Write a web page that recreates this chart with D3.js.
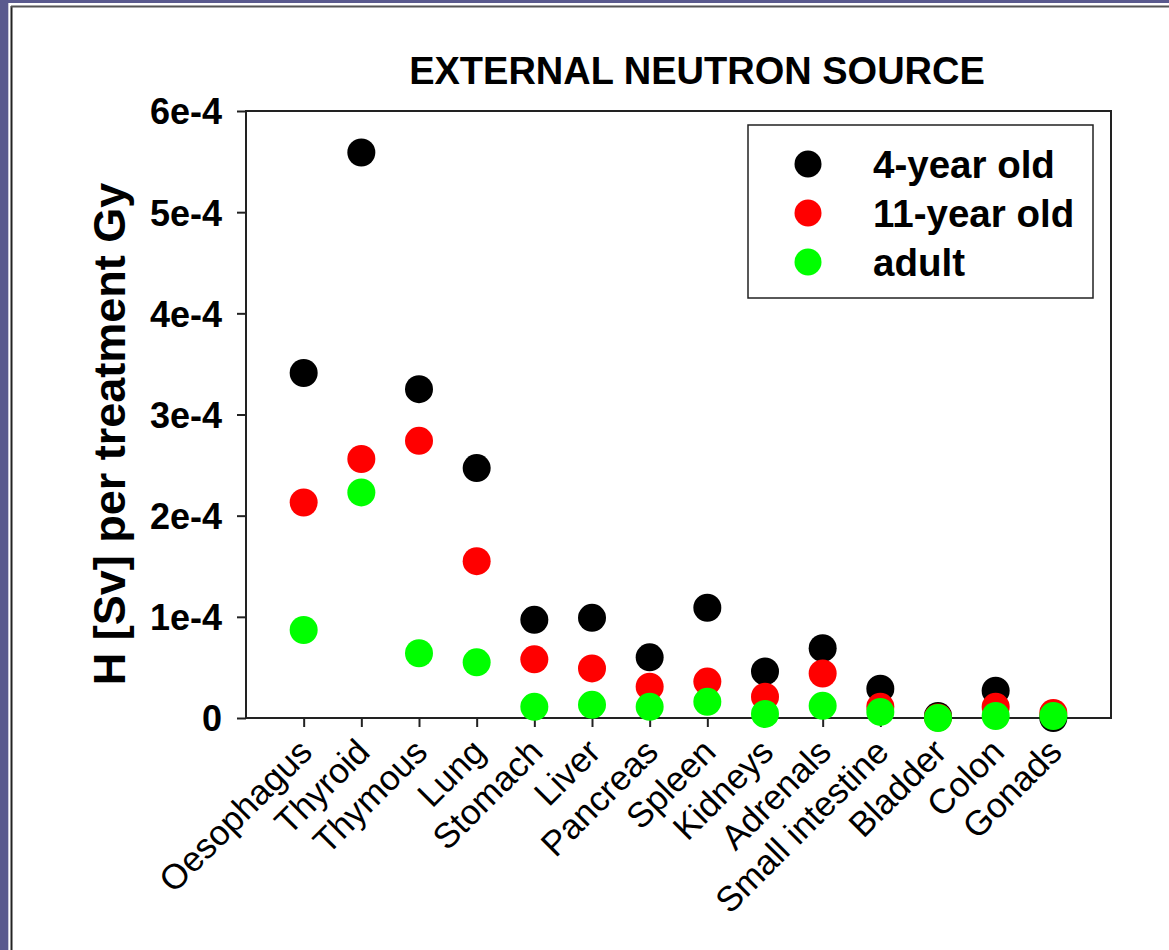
<!DOCTYPE html>
<html>
<head>
<meta charset="utf-8">
<script src="https://cdn.jsdelivr.net/npm/d3@7"></script>
<style>
  body { margin: 0; background: #5a5a8e; }
  #chart1 { width: 1169px; height: 950px; }
</style>
</head>
<body>
<div id="chart1"></div>
<script>
// Organ doses, external neutron source (values in units of 1e-4 Sv per treatment Gy)
const organs = ["Oesophagus", "Thyroid", "Thymous", "Lung", "Stomach", "Liver", "Pancreas",
    "Spleen", "Kidneys", "Adrenals", "Small intestine", "Bladder", "Colon", "Gonads"];
const age4 = [3.41, 5.59, 3.25, 2.47, 0.97, 0.99, 0.60, 1.09, 0.46, 0.69, 0.29, 0.02, 0.27, 0.00];
const age11 = [2.13, 2.56, 2.74, 1.55, 0.58, 0.49, 0.31, 0.36, 0.21, 0.44, 0.11, 0.005, 0.11, 0.05];
const adult = [0.87, 2.23, 0.64, 0.55, 0.11, 0.13, 0.11, 0.16, 0.04, 0.12, 0.06, 0.00, 0.02, 0.02];
const seriesNames = ["4-year old", "11-year old", "adult"];
const seriesColors = ["#000000", "#ff0000", "#00ff00"];
const yTicks = [0, 1, 2, 3, 4, 5, 6];

function renderChart() {
    const width = 1169, height = 950;
    const font = "'Liberation Sans', Arial, sans-serif";

    const svg = d3.select("#chart1")
        .append("svg")
        .attr("width", width)
        .attr("height", height);

    // slide frame
    svg.append("rect").attr("width", width).attr("height", height).attr("fill", "#5a5a8e");
    svg.append("rect").attr("x", 8).attr("y", 3).attr("width", width).attr("height", height).attr("fill", "#fff");
    svg.append("line").attr("x1", 8.5).attr("x2", 8.5).attr("y1", 3).attr("y2", height)
        .attr("stroke", "#c8c8d8").attr("stroke-width", 1);
    svg.append("line").attr("x1", 11.5).attr("x2", 11.5).attr("y1", 6).attr("y2", height)
        .attr("stroke", "#222").attr("stroke-width", 2);
    svg.append("line").attr("x1", 11).attr("x2", width).attr("y1", 6.5).attr("y2", 6.5)
        .attr("stroke", "#555").attr("stroke-width", 2);

    const plot = { left: 246, right: 1111, top: 111, bottom: 718 };

    const x = d3.scaleLinear().domain([0, organs.length + 1]).range([plot.left, plot.right]);
    const y = d3.scaleLinear().domain([0, 6e-4]).range([plot.bottom, plot.top]);

    // y axis
    const yAxis = svg.append("g")
        .attr("transform", `translate(${plot.left},0)`)
        .call(d3.axisLeft(y)
            .tickValues(yTicks.map(t => t * 1e-4))
            .tickSize(9)
            .tickPadding(15)
            .tickFormat((d, i) => yTicks[i] === 0 ? "0" : yTicks[i] + "e-4"));
    yAxis.select(".domain").remove();
    yAxis.selectAll("line").attr("stroke", "#222").attr("stroke-width", 2);
    yAxis.selectAll("text")
        .attr("font-family", font)
        .attr("font-size", "36px")
        .attr("font-weight", "bold")
        .attr("fill", "#000")
        .attr("dy", "0.36em");

    // x axis
    const xAxis = svg.append("g")
        .attr("transform", `translate(0,${plot.bottom})`)
        .call(d3.axisBottom(x)
            .tickValues(organs.map((d, i) => i + 1))
            .tickSize(9)
            .tickFormat((d, i) => organs[i]));
    xAxis.select(".domain").remove();
    xAxis.selectAll("line").attr("stroke", "#222").attr("stroke-width", 2);
    xAxis.selectAll("text")
        .attr("font-family", font)
        .attr("font-size", "35px")
        .attr("fill", "#000")
        .attr("text-anchor", "end")
        .attr("x", 0).attr("y", 0).attr("dy", 0)
        .attr("transform", "translate(10,36) rotate(-45)");

    // plot frame
    svg.append("rect")
        .attr("x", plot.left).attr("y", plot.top)
        .attr("width", plot.right - plot.left).attr("height", plot.bottom - plot.top)
        .attr("fill", "none").attr("stroke", "#222").attr("stroke-width", 2);

    // points: black first, then red, then green on top
    [age4, age11, adult].forEach((vals, s) => {
        svg.append("g").selectAll("circle")
            .data(vals)
            .enter()
            .append("circle")
            .attr("cx", (d, i) => x(i + 1))
            .attr("cy", d => y(d * 1e-4))
            .attr("r", 14)
            .attr("fill", seriesColors[s]);
    });

    // title
    svg.append("text")
        .attr("x", 697).attr("y", 84)
        .attr("text-anchor", "middle")
        .attr("font-family", font)
        .attr("font-size", "38px")
        .attr("font-weight", "bold")
        .text("EXTERNAL NEUTRON SOURCE");

    // y label
    svg.append("text")
        .attr("transform", "translate(125,434) rotate(-90)")
        .attr("text-anchor", "middle")
        .attr("font-family", font)
        .attr("font-size", "45px")
        .attr("font-weight", "bold")
        .text("H [Sv] per treatment Gy");

    // legend
    const legend = svg.append("g");
    legend.append("rect")
        .attr("x", 748).attr("y", 125).attr("width", 345).attr("height", 173)
        .attr("fill", "#fff").attr("stroke", "#222").attr("stroke-width", 1.5);
    seriesNames.forEach((name, i) => {
        legend.append("circle")
            .attr("cx", 808).attr("cy", 164 + i * 49)
            .attr("r", 13.5).attr("fill", seriesColors[i]);
        legend.append("text")
            .attr("x", 873).attr("y", 164 + i * 49)
            .attr("dy", "0.36em")
            .attr("font-family", font)
            .attr("font-size", "38.5px")
            .attr("font-weight", "bold")
            .text(name);
    });
}

renderChart();
</script>
</body>
</html>
